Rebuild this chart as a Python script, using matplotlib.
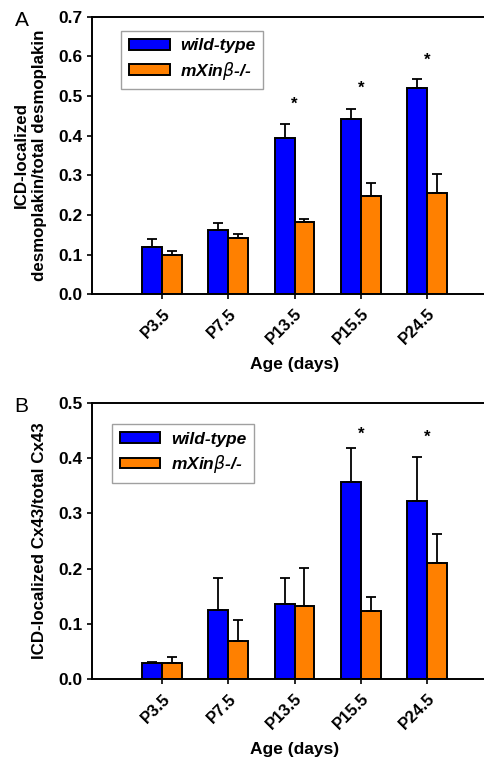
import numpy as np
import matplotlib
matplotlib.use("Agg")
import matplotlib.pyplot as plt
from matplotlib.transforms import ScaledTranslation

plt.rcParams['font.family'] = ['Liberation Sans', 'DejaVu Sans']

categories = ["P3.5", "P7.5", "P13.5", "P15.5", "P24.5"]
series_names = ["wild-type", r"mXin$\beta$-/-"]

# Panel A: desmoplakin
a_wt = [0.119, 0.162, 0.395, 0.442, 0.521]
a_wt_err = [0.021, 0.017, 0.034, 0.026, 0.021]
a_ko = [0.098, 0.141, 0.183, 0.248, 0.256]
a_ko_err = [0.011, 0.010, 0.006, 0.032, 0.046]
a_star_idx = [2, 3, 4]
a_star_y = [0.48, 0.52, 0.59]

# Panel B: Cx43
b_wt = [0.029, 0.126, 0.137, 0.357, 0.322]
b_wt_err = [0.003, 0.058, 0.047, 0.062, 0.080]
b_ko = [0.029, 0.070, 0.133, 0.123, 0.211]
b_ko_err = [0.011, 0.037, 0.069, 0.026, 0.051]
b_star_idx = [3, 4]
b_star_y = [0.443, 0.437]

blue = "#0000FF"
orange = "#FF8000"

fig = plt.figure(figsize=(4.84, 7.62), dpi=100)

FS = 12.5

def panel(rect, wt, wt_err, ko, ko_err, star_idx, star_y, ymax, yticks, ylabel, letter, leg_loc, ylpad):
    ax = fig.add_axes(rect)
    x = np.arange(len(categories))
    w = 0.3
    ekw = dict(elinewidth=1.3, capthick=1.3, capsize=3.5, ecolor='black')
    ax.bar(x - w/2, wt, w, color=blue, edgecolor='black', linewidth=1.4,
           yerr=[np.zeros(len(wt)), wt_err], error_kw=ekw, label=series_names[0], zorder=2)
    ax.bar(x + w/2, ko, w, color=orange, edgecolor='black', linewidth=1.4,
           yerr=[np.zeros(len(ko)), ko_err], error_kw=ekw, label=series_names[1], zorder=2)
    for i, yy in zip(star_idx, star_y):
        ax.text(x[i], yy, "*", ha='center', va='center', fontsize=12, fontweight='bold')
    ax.set_xlim(-1.06, 5.06)
    ax.set_ylim(0, ymax)
    ax.set_yticks(yticks)
    ax.set_yticklabels([f"{t:.1f}" for t in yticks], fontsize=FS, fontweight='bold')
    ax.set_xticks(x)
    ax.set_xticklabels(categories, rotation=45, ha='right', rotation_mode='anchor',
                       fontsize=FS - 0.5, fontweight='bold')
    off = ScaledTranslation(-5 / 72, 0, fig.dpi_scale_trans)
    for lab in ax.get_xticklabels():
        lab.set_transform(lab.get_transform() + off)
    ax.tick_params(direction='out', length=3.5, width=1.2)
    ax.tick_params(axis='x', pad=5)
    for s in ax.spines.values():
        s.set_linewidth(1.4)
    ax.set_xlabel("Age (days)", fontsize=FS, fontweight='bold', labelpad=7)
    ax.set_ylabel(ylabel, fontsize=FS - 0.3, fontweight='bold', labelpad=ylpad, linespacing=1.25)
    leg = ax.legend(loc='upper left', bbox_to_anchor=leg_loc, fancybox=False,
                    handlelength=2.35, handleheight=0.55, borderpad=0.45, labelspacing=0.35,
                    handletextpad=0.6, borderaxespad=0,
                    prop=dict(size=FS, weight='bold', style='italic'))
    leg.get_frame().set_edgecolor('#888888')
    leg.get_frame().set_linewidth(1.0)
    fig.text(0.03, rect[1] + rect[3] - 0.005, letter, fontsize=15, ha='left', va='center')
    return ax

panel([0.190, 0.614, 0.837, 0.364], a_wt, a_wt_err, a_ko, a_ko_err, a_star_idx, a_star_y,
      0.7, np.arange(0, 0.71, 0.1), "ICD-localized\ndesmoplakin/total desmoplakin", "A",
      (0.072, 0.95), 8)
panel([0.190, 0.1085, 0.837, 0.363], b_wt, b_wt_err, b_ko, b_ko_err, b_star_idx, b_star_y,
      0.5, np.arange(0, 0.51, 0.1), "ICD-localized Cx43/total Cx43", "B",
      (0.049, 0.923), 8)

fig.savefig("out.png", dpi=100)
